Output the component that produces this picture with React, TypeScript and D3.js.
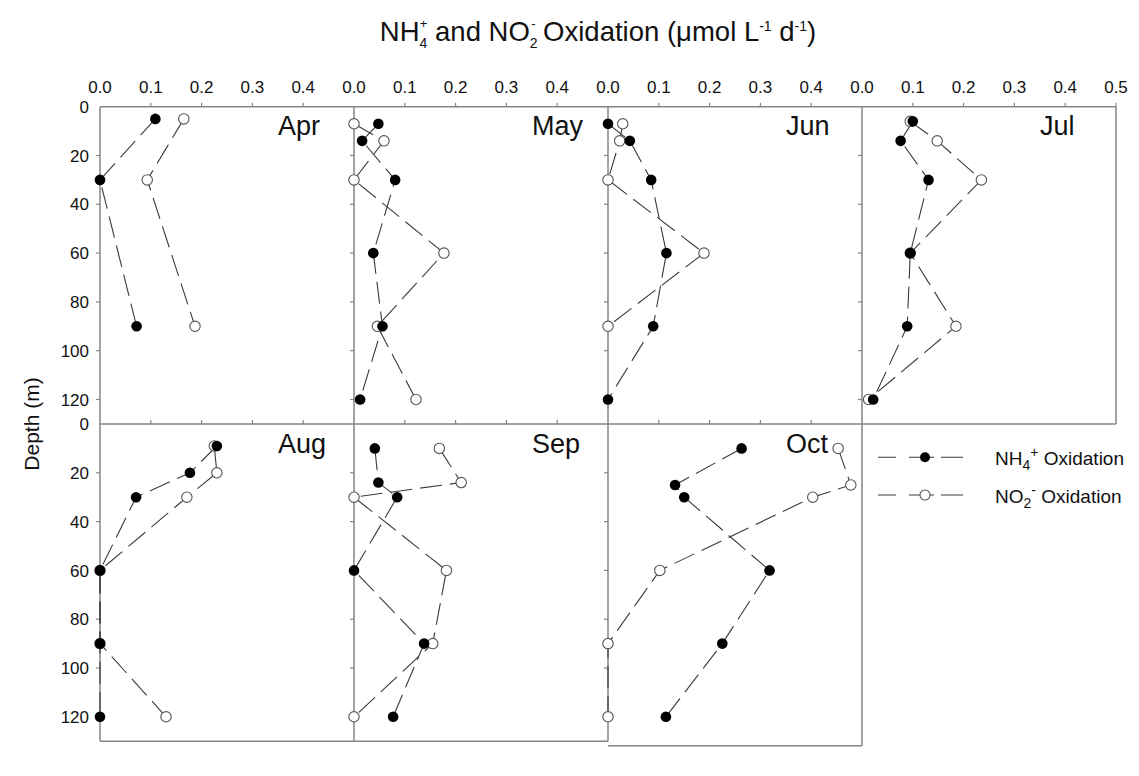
import React from "react";
import * as d3 from "d3";

// ---------- data ----------
const months = ["Apr", "May", "Jun", "Jul", "Aug", "Sep", "Oct"];
const xTicks = [0, 0.1, 0.2, 0.3, 0.4, 0.5];
const depthTicks = [0, 20, 40, 60, 80, 100, 120];

const aprDepth = [5, 30, 90];
const aprNH4 = [0.109, 0, 0.072];
const aprNO2 = [0.165, 0.093, 0.187];

const mayDepth = [7, 14, 30, 60, 90, 120];
const mayNH4 = [0.048, 0.016, 0.081, 0.038, 0.056, 0.012];
const mayNO2 = [0, 0.059, 0, 0.177, 0.046, 0.122];

const junDepth = [7, 14, 30, 60, 90, 120];
const junNH4 = [0, 0.043, 0.085, 0.115, 0.089, 0];
const junNO2Depth = [7, 14, 30, 60, 90];
const junNO2 = [0.029, 0.023, 0, 0.189, 0];

const julDepth = [6, 14, 30, 60, 90, 120];
const julNH4 = [0.1, 0.076, 0.131, 0.095, 0.089, 0.022];
const julNO2 = [0.095, 0.148, 0.235, 0.095, 0.185, 0.013];

const augDepth = [9, 20, 30, 60, 90, 120];
const augNH4 = [0.23, 0.177, 0.071, 0, 0, 0];
const augNO2 = [0.225, 0.23, 0.171, 0, 0, 0.13];

const sepDepth = [10, 24, 30, 60, 90, 120];
const sepNH4 = [0.041, 0.048, 0.085, 0, 0.138, 0.077];
const sepNO2 = [0.168, 0.211, 0, 0.182, 0.155, 0];

const octDepth = [10, 25, 30, 60, 90, 120];
const octNH4 = [0.263, 0.132, 0.15, 0.318, 0.225, 0.114];
const octNO2 = [0.453, 0.478, 0.403, 0.102, 0, 0];

type Pt = { v: number; d: number };
const zip = (vals: number[], deps: number[]): Pt[] =>
  vals.map((v, i) => ({ v, d: deps[i] }));

const panels = [
  { nh4: zip(aprNH4, aprDepth), no2: zip(aprNO2, aprDepth) },
  { nh4: zip(mayNH4, mayDepth), no2: zip(mayNO2, mayDepth) },
  { nh4: zip(junNH4, junDepth), no2: zip(junNO2, junNO2Depth) },
  { nh4: zip(julNH4, julDepth), no2: zip(julNO2, julDepth) },
  { nh4: zip(augNH4, augDepth), no2: zip(augNO2, augDepth) },
  { nh4: zip(sepNH4, sepDepth), no2: zip(sepNO2, sepDepth) },
  { nh4: zip(octNH4, octDepth), no2: zip(octNO2, octDepth) },
];

// ---------- layout ----------
const W = 1139;
const H = 776;
const LEFT = 100;
const PW = 254;
const ROW_TOPS = [106.7, 424];
const RH = 317.2;
const FRAME = "#858585";
const LINE = "#3a3a3a";
const FONT = "'Liberation Sans', Arial, Helvetica, sans-serif";
const DASH = "22,8";

export default function App() {
  const items: React.ReactNode[] = [];

  panels.forEach((p, i) => {
    const col = i % 4;
    const row = Math.floor(i / 4);
    const x0 = LEFT + col * PW;
    const top = ROW_TOPS[row];
    const x = d3.scaleLinear().domain([0, 0.5]).range([x0, x0 + PW]);
    const y = d3.scaleLinear().domain([0, 130]).range([top, top + RH]);
    const bottom = y(130);
    const isOct = months[i] === "Oct";
    const isLastTop = months[i] === "Jul";

    // frame
    items.push(
      <line key={`t${i}`} x1={x(0)} x2={x(0.5)} y1={top} y2={top} stroke={FRAME} strokeWidth={1.5} />
    );
    items.push(
      <line key={`l${i}`} x1={x(0)} x2={x(0)} y1={top} y2={bottom} stroke={FRAME} strokeWidth={1.5} />
    );
    if (isLastTop) {
      items.push(
        <line key={`r${i}`} x1={x(0.5)} x2={x(0.5)} y1={top} y2={bottom} stroke={FRAME} strokeWidth={1.5} />
      );
      items.push(
        <line key={`b${i}`} x1={x(0)} x2={x(0.5)} y1={bottom} y2={bottom} stroke={FRAME} strokeWidth={1.5} />
      );
    }
    if (row === 1) {
      const by = isOct ? bottom + 4.5 : bottom;
      items.push(
        <line key={`b${i}`} x1={x(0)} x2={x(0.5)} y1={by} y2={by} stroke={FRAME} strokeWidth={1.5} />
      );
      if (isOct) {
        items.push(
          <line key={`r${i}`} x1={x(0.5)} x2={x(0.5)} y1={top} y2={by} stroke={FRAME} strokeWidth={1.5} />
        );
      }
    }

    // top ticks
    xTicks.forEach((t) => {
      if (t === 0) return;
      if (t === 0.5 && !isLastTop) return;
      items.push(
        <line key={`xt${i}-${t}`} x1={x(t)} x2={x(t)} y1={top - 4} y2={top} stroke={FRAME} strokeWidth={1.2} />
      );
    });
    // top tick labels
    if (row === 0) {
      xTicks.forEach((t) => {
        if (t === 0.5 && !isLastTop) return;
        items.push(
          <text key={`xl${i}-${t}`} x={x(t)} y={92.7} textAnchor="middle" fontSize={17} fontFamily={FONT} fill="#111">
            {d3.format(".1f")(t)}
          </text>
        );
      });
    }
    // left ticks
    depthTicks.forEach((d) => {
      if (d === 0) return;
      items.push(
        <line key={`yt${i}-${d}`} x1={x(0) - 4} x2={x(0)} y1={y(d)} y2={y(d)} stroke={FRAME} strokeWidth={1.2} />
      );
    });
    if (col === 0) {
      depthTicks.forEach((d) => {
        items.push(
          <text key={`yl${i}-${d}`} x={89} y={y(d)} dy="0.36em" textAnchor="end" fontSize={17} fontFamily={FONT} fill="#111">
            {d}
          </text>
        );
      });
    }

    // month label
    items.push(
      <text key={`m${i}`} x={x0 + 178} y={top + 28.5} fontSize={27} fontFamily={FONT} fill="#111">
        {months[i]}
      </text>
    );

    const line = d3
      .line<Pt>()
      .x((pt) => x(pt.v))
      .y((pt) => y(pt.d));

    items.push(
      <path key={`no2l${i}`} d={line(p.no2) || ""} fill="none" stroke={LINE} strokeWidth={1.1} strokeDasharray={DASH} />
    );
    items.push(
      <path key={`nh4l${i}`} d={line(p.nh4) || ""} fill="none" stroke={LINE} strokeWidth={1.1} strokeDasharray={DASH} />
    );
    p.no2.forEach((pt, j) => {
      items.push(
        <circle key={`no2c${i}-${j}`} cx={x(pt.v)} cy={y(pt.d)} r={5.2} fill="#fff" stroke="#555" strokeWidth={1.1} />
      );
    });
    p.nh4.forEach((pt, j) => {
      items.push(
        <circle key={`nh4c${i}-${j}`} cx={x(pt.v)} cy={y(pt.d)} r={5.3} fill="#000" />
      );
    });
  });

  return (
    <svg
      width={W}
      height={H}
      style={{ position: "absolute", left: 0, top: 0, background: "#fff" }}
      fontFamily={FONT}
    >
      {/* title */}
      <text x={598} y={41} textAnchor="middle" fontSize={27.5} fill="#111">
        <tspan>NH</tspan>
        <tspan fontSize={14} dy={7}>4</tspan>
        <tspan fontSize={13} dx={-7.5} dy={-20}>+</tspan>
        <tspan dy={13}> and NO</tspan>
        <tspan fontSize={14} dy={7}>2</tspan>
        <tspan fontSize={13} dx={-6.5} dy={-20}>-</tspan>
        <tspan dy={13}> Oxidation (μmol L</tspan>
        <tspan fontSize={14} dy={-10}>-1</tspan>
        <tspan dy={10}> d</tspan>
        <tspan fontSize={14} dy={-10}>-1</tspan>
        <tspan dy={10}>)</tspan>
      </text>

      {/* y title */}
      <text
        transform="translate(39,424) rotate(-90)"
        textAnchor="middle"
        fontSize={21}
        fill="#111"
      >
        Depth (m)
      </text>

      {items}

      {/* legend */}
      <g>
        <line x1={878} x2={963} y1={457.3} y2={457.3} stroke={LINE} strokeWidth={1.1} strokeDasharray="18,13,25,7,22" />
        <circle cx={925} cy={457.3} r={5} fill="#000" />
        <text x={995} y={465} fontSize={19} fill="#111">
          <tspan>NH</tspan>
          <tspan fontSize={14} dy={5}>4</tspan>
          <tspan fontSize={14} dy={-13}>+</tspan>
          <tspan dy={8}> Oxidation</tspan>
        </text>
        <line x1={878} x2={963} y1={495} y2={495} stroke={LINE} strokeWidth={1.1} strokeDasharray="18,13,25,7,22" />
        <circle cx={925} cy={495} r={5} fill="#fff" stroke="#555" strokeWidth={1.1} />
        <text x={995} y={503} fontSize={19} fill="#111">
          <tspan>NO</tspan>
          <tspan fontSize={14} dy={5}>2</tspan>
          <tspan fontSize={14} dy={-13}>-</tspan>
          <tspan dy={8}> Oxidation</tspan>
        </text>
      </g>
    </svg>
  );
}
